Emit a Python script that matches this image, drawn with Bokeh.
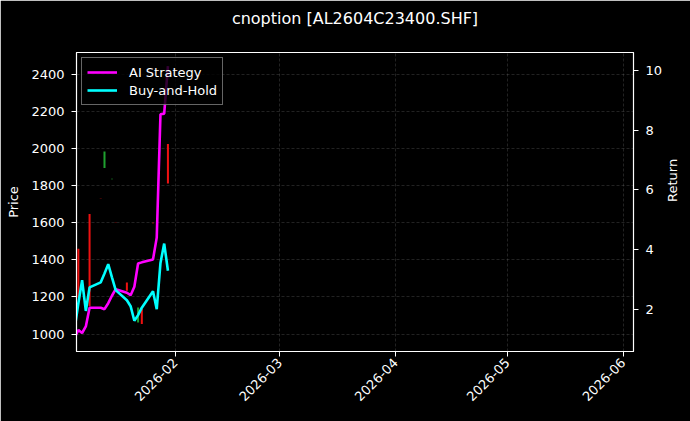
import math
import pandas as pd
from bokeh.plotting import figure
from bokeh.models import (Range1d, LinearAxis, MonthsTicker, DatetimeTickFormatter,
                          SingleIntervalTicker, FixedTicker, Legend, ColumnDataSource)
from bokeh.embed import file_html
from bokeh.resources import INLINE

# ---------------- data ----------------
title_text = "cnoption [AL2604C23400.SHF]"

dates = ["2026-01-05", "2026-01-06", "2026-01-07", "2026-01-08", "2026-01-09",
         "2026-01-12", "2026-01-13", "2026-01-14", "2026-01-15", "2026-01-16",
         "2026-01-19", "2026-01-20", "2026-01-21", "2026-01-22", "2026-01-23",
         "2026-01-26", "2026-01-27", "2026-01-28", "2026-01-29", "2026-01-30"]
ai_strategy = [1.05, 1.30, 1.20, 1.42, 2.05, 2.05, 2.00, 2.20, 2.45, 2.67,
               2.55, 2.47, 2.75, 3.53, 3.57, 3.67, 4.40, 8.54, 8.56, 10.15]
buy_and_hold = [1.35, 2.20, 2.97, 1.94, 2.73, 2.90, 3.20, 3.51, 3.07, 2.64,
                2.30, 2.10, 1.61, 1.80, 2.05, 2.60, 2.00, 3.55, 4.20, 3.29]

candle_dates = ["2026-01-06", "2026-01-09", "2026-01-12", "2026-01-13", "2026-01-15",
                "2026-01-16", "2026-01-19", "2026-01-22", "2026-01-23", "2026-01-26",
                "2026-01-30"]
candle_open = [1459, 1646, 1733, 1894, 1834, 1601, 1278, 1062, 1135, 1599, 2023]
candle_close = [1195, 1150, 1731, 1983, 1836, 1599, 1233, 1143, 1054, 1597, 1811]

x_start, x_end = "2026-01-05 12:00", "2026-06-03 18:00"
price_range = (906, 2516)
return_range = (0.58, 10.61)

# ---------------- figure ----------------
FONT = "DejaVu Sans"
p = figure(width=690, height=421, x_axis_type="datetime",
           x_range=Range1d(pd.Timestamp(x_start), pd.Timestamp(x_end)),
           y_range=Range1d(*price_range),
           output_backend="svg", toolbar_location=None,
           min_border_left=76, min_border_right=57, min_border_top=52, min_border_bottom=70,
           background_fill_color="black", border_fill_color="black",
           outline_line_color="white", outline_line_width=1.2)

p.extra_y_ranges = {"ret": Range1d(*return_range)}
right_axis = LinearAxis(y_range_name="ret", axis_label="Return",
                        ticker=SingleIntervalTicker(interval=2))
p.add_layout(right_axis, "right")

left_axis = p.left[0]
left_axis.axis_label = "Price"
left_axis.ticker = SingleIntervalTicker(interval=200)
p.ygrid.ticker = left_axis.ticker

month_ticker = MonthsTicker(months=list(range(1, 13)))
p.xaxis.ticker = month_ticker
p.xgrid.ticker = month_ticker
p.xaxis.formatter = DatetimeTickFormatter(months="%Y-%m", days="%Y-%m", years="%Y-%m")
p.xaxis.major_label_orientation = math.pi / 4

for ax in p.axis:
    ax.axis_line_color = "white"
    ax.major_tick_line_color = "white"
    ax.major_tick_out = 5
    ax.major_tick_in = 0
    ax.minor_tick_line_color = None
    ax.major_label_text_color = "white"
    ax.major_label_text_font = FONT
    ax.major_label_text_font_size = "13px"
    ax.major_label_standoff = 7
    ax.axis_label_text_color = "white"
    ax.axis_label_text_font = FONT
    ax.axis_label_text_font_size = "13px"
    ax.axis_label_text_font_style = "normal"
    ax.axis_label_standoff = 7

p.xaxis.major_label_standoff = 4
right_axis.axis_label_orientation = math.pi / 2

# chart title, carried by a tickless axis above the frame
title_axis = LinearAxis(ticker=FixedTicker(ticks=[]), axis_label=title_text,
                        axis_line_color=None, major_tick_line_color=None,
                        minor_tick_line_color=None, major_tick_out=0, minor_tick_out=0,
                        axis_label_standoff=25, axis_label_text_color="white",
                        axis_label_text_font=FONT, axis_label_text_font_size="16px",
                        axis_label_text_font_style="normal")
p.add_layout(title_axis, "above")

for g in (p.xgrid, p.ygrid):
    g.grid_line_color = "#808080"
    g.grid_line_alpha = 0.45
    g.grid_line_width = 0.6
    g.grid_line_dash = "3 2"

# ---------------- candles ----------------
c_x = pd.to_datetime(candle_dates)
c_top = [max(o, c) for o, c in zip(candle_open, candle_close)]
c_bot = [min(o, c) for o, c in zip(candle_open, candle_close)]
c_col = ["#1fa02f" if c > o else "#ee1111" for o, c in zip(candle_open, candle_close)]
src = ColumnDataSource(dict(x=c_x, top=c_top, bottom=c_bot, color=c_col))
p.vbar(x="x", width=13 * 3600 * 1000, top="top", bottom="bottom",
       fill_color="color", line_color=None, source=src)

# ---------------- return lines ----------------
d_x = pd.to_datetime(dates)
r1 = p.line(d_x, ai_strategy, y_range_name="ret", line_color="#ff00ff", line_width=2.6)
r2 = p.line(d_x, buy_and_hold, y_range_name="ret", line_color="#00ffff", line_width=2.6)

legend = Legend(items=[("AI Strategy", [r1]), ("Buy-and-Hold", [r2])],
                location="top_left", margin=5, padding=5, spacing=0,
                glyph_width=30, glyph_height=18, label_height=18, label_standoff=12,
                background_fill_color="black", background_fill_alpha=0.8,
                border_line_color="#cccccc", border_line_width=1,
                label_text_color="white", label_text_font=FONT,
                label_text_font_size="13px")
p.add_layout(legend)

html = file_html(p, INLINE)
html = html.replace("<body>", '<body style="background-color:#000000;">', 1)
open("out.html", "w").write(html)
